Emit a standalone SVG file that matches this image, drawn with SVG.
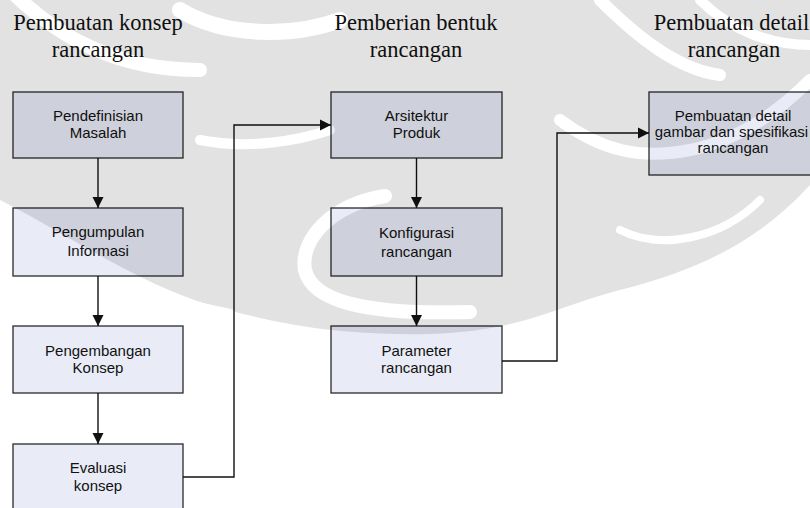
<svg xmlns="http://www.w3.org/2000/svg" width="810" height="508" viewBox="0 0 810 508">
  <style>
    .title { font-family: "Liberation Serif", "Times New Roman", serif; font-size: 22.5px; fill: #111; text-anchor: middle; }
    .label { font-family: "Liberation Sans", Arial, sans-serif; font-size: 15px; fill: #111; text-anchor: middle; }
    .box { fill: #e9ecf7; stroke: #2a2a2a; stroke-width: 1.3; }
    .conn { fill: none; stroke: #111; stroke-width: 1.4; }
  </style>
  <defs>
    <marker id="arrow" markerUnits="userSpaceOnUse" markerWidth="12" markerHeight="12" viewBox="0 0 12 12" refX="11" refY="6" orient="auto">
      <path d="M0,0.5 L11,6 L0,11.5 Z" fill="#111"/>
    </marker>
    <!-- background emblem: soft grey shapes with white streaks cut out -->
    <mask id="emblem" maskUnits="userSpaceOnUse" x="0" y="0" width="810" height="508">
      <rect x="0" y="0" width="810" height="508" fill="#000"/>
      <path d="M0,0 H810 V185 C760,240 700,270 620,290 C560,305 520,332 430,334 C330,336 270,322 210,305 C140,285 60,230 0,200 Z" fill="#fff"/>
      <g fill="none" stroke="#000" stroke-linecap="round">
        <path d="M10,-10 C60,40 120,70 200,70" stroke-width="14"/>
        <path d="M180,10 C230,40 300,35 340,20" stroke-width="16"/>
        <path d="M385,196 C330,205 300,240 305,270 C312,300 360,315 470,312" stroke-width="14"/>
        <path d="M560,120 C600,150 640,160 690,150 C740,140 780,110 810,80" stroke-width="12"/>
        <path d="M600,0 C640,40 680,70 720,75" stroke-width="12"/>
        <path d="M700,0 C730,30 770,45 810,45" stroke-width="10"/>
        <path d="M20,240 C80,270 150,300 230,315" stroke-width="12"/>
        <path d="M620,230 C660,250 720,240 760,200" stroke-width="8"/>
        <path d="M200,140 C250,150 300,140 330,130" stroke-width="10"/>
      </g>
    </mask>
  </defs>

  <!-- nodes: column 1 -->
  <g id="title-konsep">
    <text class="title" x="98" y="30">Pembuatan konsep</text>
    <text class="title" x="98" y="57">rancangan</text>
  </g>
  <g id="pendefinisian">
    <rect class="box" x="13" y="92" width="170" height="66"/>
    <text class="label" x="98" y="121">Pendefinisian</text>
    <text class="label" x="98" y="138">Masalah</text>
  </g>
  <g id="pengumpulan">
    <rect class="box" x="13" y="208" width="170" height="68"/>
    <text class="label" x="98" y="237">Pengumpulan</text>
    <text class="label" x="98" y="256">Informasi</text>
  </g>
  <g id="pengembangan">
    <rect class="box" x="13" y="326" width="170" height="67"/>
    <text class="label" x="98" y="356">Pengembangan</text>
    <text class="label" x="98" y="373">Konsep</text>
  </g>
  <g id="evaluasi">
    <rect class="box" x="13" y="444" width="170" height="68"/>
    <text class="label" x="98" y="473">Evaluasi</text>
    <text class="label" x="98" y="491">konsep</text>
  </g>

  <!-- nodes: column 2 -->
  <g id="title-bentuk">
    <text class="title" x="416" y="30">Pemberian bentuk</text>
    <text class="title" x="416" y="57">rancangan</text>
  </g>
  <g id="arsitektur">
    <rect class="box" x="331" y="92" width="171" height="66"/>
    <text class="label" x="416.5" y="121">Arsitektur</text>
    <text class="label" x="416.5" y="138">Produk</text>
  </g>
  <g id="konfigurasi">
    <rect class="box" x="331" y="208" width="171" height="68"/>
    <text class="label" x="416.5" y="238">Konfigurasi</text>
    <text class="label" x="416.5" y="257">rancangan</text>
  </g>
  <g id="parameter">
    <rect class="box" x="331" y="326" width="171" height="67"/>
    <text class="label" x="416.5" y="356">Parameter</text>
    <text class="label" x="416.5" y="373">rancangan</text>
  </g>

  <!-- nodes: column 3 -->
  <g id="title-detail">
    <text class="title" x="731.5" y="30">Pembuatan detail</text>
    <text class="title" x="734" y="57">rancangan</text>
  </g>
  <g id="detail">
    <rect class="box" x="649" y="92" width="172" height="83"/>
    <text class="label" x="733" y="121">Pembuatan detail</text>
    <text class="label" x="731.5" y="137">gambar dan spesifikasi</text>
    <text class="label" x="733" y="153">rancangan</text>
  </g>

  <!-- connectors -->
  <g id="connectors">
    <path class="conn" d="M98,158 V208" marker-end="url(#arrow)"/>
    <path class="conn" d="M98,276 V326" marker-end="url(#arrow)"/>
    <path class="conn" d="M98,393 V444" marker-end="url(#arrow)"/>
    <path class="conn" d="M183,477 H234 V125 H331" marker-end="url(#arrow)"/>
    <path class="conn" d="M416.5,158 V208" marker-end="url(#arrow)"/>
    <path class="conn" d="M416.5,276 V326" marker-end="url(#arrow)"/>
    <path class="conn" d="M502,361 H557 V133 H649" marker-end="url(#arrow)"/>
  </g>

  <!-- faint emblem laid over the page -->
  <rect x="0" y="0" width="810" height="508" fill="#000" opacity="0.11" mask="url(#emblem)"/>
</svg>
